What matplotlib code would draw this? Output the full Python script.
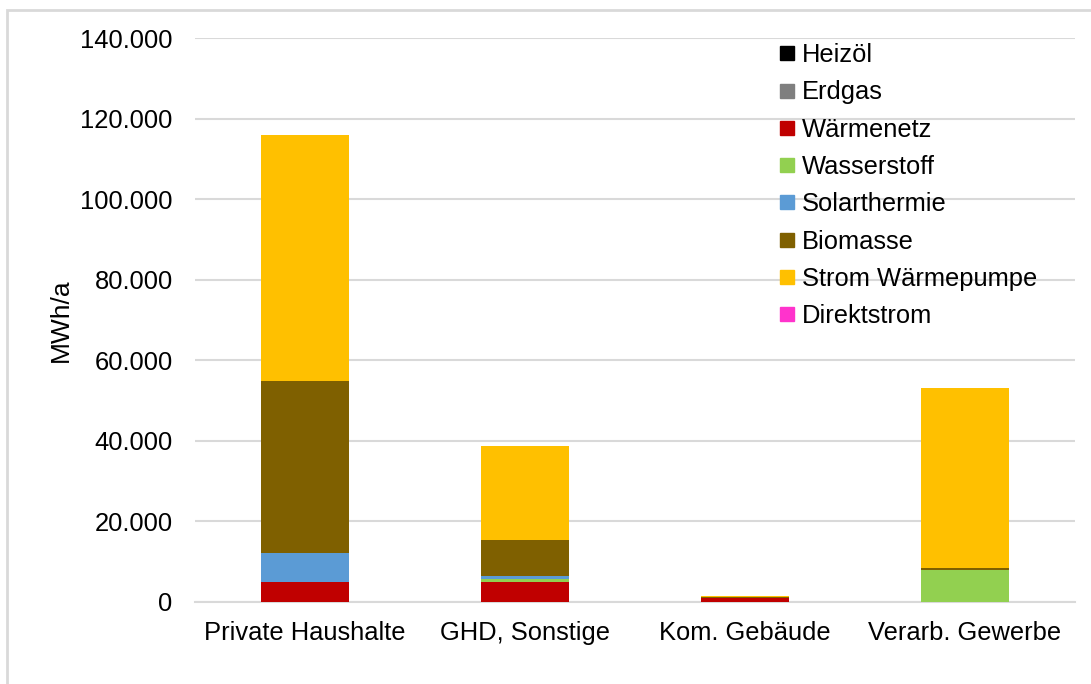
import numpy as np
import matplotlib.pyplot as plt
from matplotlib.lines import Line2D
from matplotlib.patches import Rectangle

plt.rcParams['font.family'] = ['Liberation Sans', 'DejaVu Sans']

# Sektoren und Energieträger (MWh/a)
sektoren = ['Private Haushalte', 'GHD, Sonstige', 'Kom. Gebäude', 'Verarb. Gewerbe']
traeger = ['Heizöl', 'Erdgas', 'Wärmenetz', 'Wasserstoff', 'Solarthermie',
           'Biomasse', 'Strom Wärmepumpe', 'Direktstrom']
farben = ['#000000', '#7f7f7f', '#c00000', '#92d050', '#5b9bd5',
          '#7f6000', '#ffc000', '#ff33cc']

heizoel = [0, 0, 0, 0]
erdgas = [0, 0, 0, 0]
waermenetz = [5000, 5000, 1050, 0]
wasserstoff = [0, 700, 0, 7900]
solarthermie = [7100, 800, 0, 0]
biomasse = [42800, 8900, 250, 650]
strom_wp = [61000, 23300, 300, 44500]
direktstrom = [0, 0, 0, 0]

werte = [heizoel, erdgas, waermenetz, wasserstoff, solarthermie,
         biomasse, strom_wp, direktstrom]

fig = plt.figure(figsize=(10.91, 6.84), dpi=100)
ax = fig.add_axes([0.1787, 0.1199, 0.8066, 0.8245])

x = np.arange(len(sektoren))
unten = np.zeros(len(sektoren))
for name, reihe, farbe in zip(traeger, werte, farben):
    ax.bar(x, reihe, bottom=unten, width=0.4, color=farbe, label=name, zorder=3)
    unten += np.array(reihe)

ax.set_xlim(-0.5, len(sektoren) - 0.5)
ax.set_ylim(0, 140000)
ax.set_yticks(np.arange(0, 140001, 20000))
ax.yaxis.set_major_formatter(plt.FuncFormatter(lambda v, p: f'{v:,.0f}'.replace(',', '.')))
ax.set_xticks(x)
ax.set_xticklabels(sektoren)
ax.tick_params(axis='both', length=0, labelsize=18.4, colors='#000000')
ax.tick_params(axis='y', pad=16)
ax.tick_params(axis='x', pad=14)
ax.grid(axis='y', color='#d9d9d9', linewidth=1.5, zorder=0)
for s in ['top', 'right', 'left']:
    ax.spines[s].set_visible(False)
ax.spines['bottom'].set_color('#d9d9d9')
ax.spines['bottom'].set_linewidth(1.5)
ax.set_ylabel('MWh/a', fontsize=19, labelpad=5)

griffe = [Line2D([], [], marker='s', linestyle='none', markersize=9.5,
                 markerfacecolor=f, markeredgecolor=f) for f in farben]
ax.legend(griffe, traeger, loc='upper left', bbox_to_anchor=(0.65, 1.009),
          frameon=False, fontsize=18.4, handlelength=0.8, handletextpad=0.16,
          labelspacing=0.52, borderaxespad=0)

# Rahmen um die Grafik
fig.patches.append(Rectangle((7 / 1091, -0.1), 1.2, 1.1 - 10 / 684,
                             transform=fig.transFigure, fill=False,
                             edgecolor='#d9d9d9', linewidth=2))

fig.savefig('out.png', dpi=100)
